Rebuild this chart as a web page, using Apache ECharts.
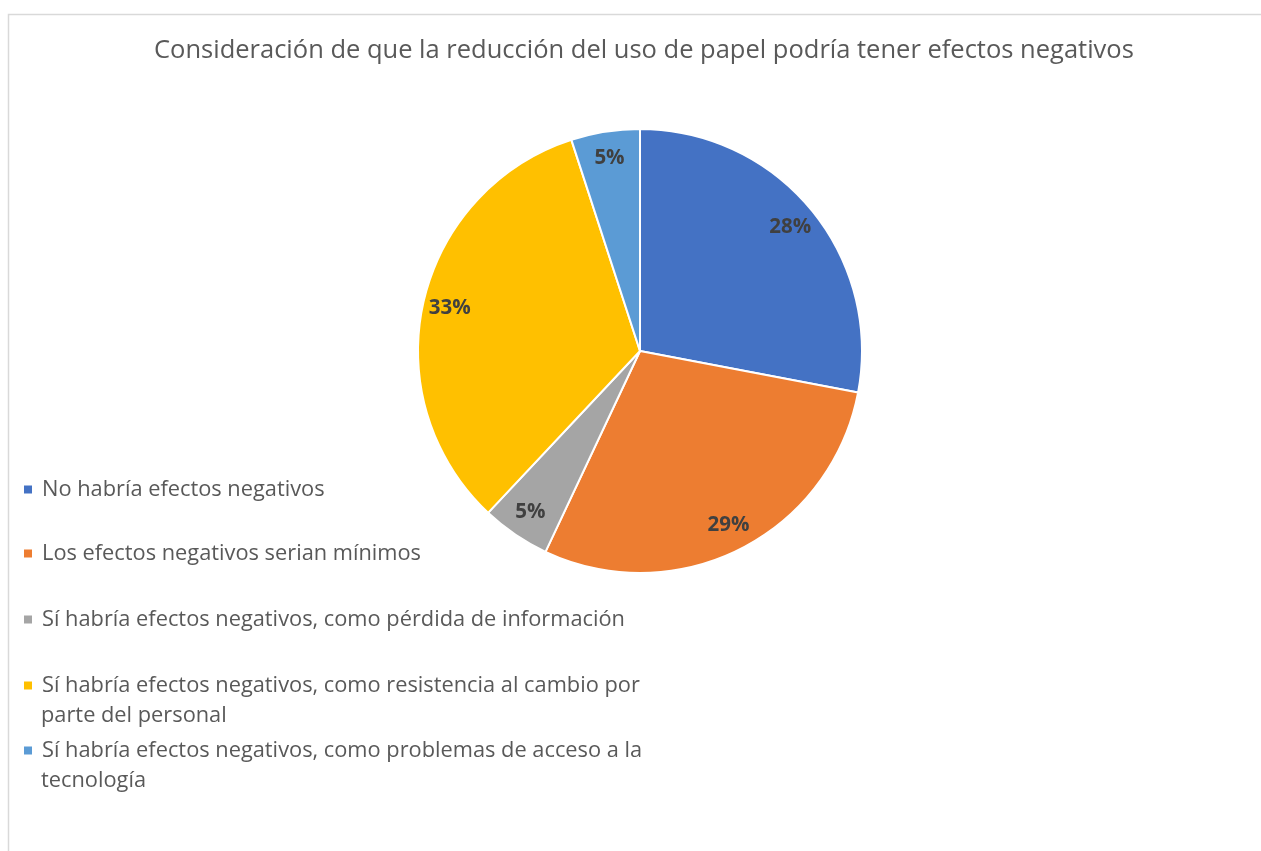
<!DOCTYPE html>
<html>
<head>
<meta charset="utf-8">
<script src="https://cdn.jsdelivr.net/npm/echarts@6/dist/echarts.min.js"></script>
<style>
  html, body { margin: 0; padding: 0; background: #ffffff; }
  #chart { width: 1261px; height: 851px; }
</style>
</head>
<body>
<div id="chart"></div>
<script>
// Survey answers and their shares (percent)
const categories = [
  'No habría efectos negativos',
  'Los efectos negativos serian mínimos',
  'Sí habría efectos negativos, como pérdida de información',
  'Sí habría efectos negativos, como resistencia al cambio por parte del personal',
  'Sí habría efectos negativos, como problemas de acceso a la tecnología'
];
// legend text, split into the lines it wraps to
const legendLines = [
  ['No habría efectos negativos'],
  ['Los efectos negativos serian mínimos'],
  ['Sí habría efectos negativos, como pérdida de información'],
  ['Sí habría efectos negativos, como resistencia al cambio por', 'parte del personal'],
  ['Sí habría efectos negativos, como problemas de acceso a la', 'tecnología']
];
const values = [28, 29, 5, 33, 5];
const colors = ['#4472C4', '#ED7D31', '#A5A5A5', '#FFC000', '#5B9BD5'];
const titleText = 'Consideración de que la reducción del uso de papel podría tener efectos negativos';

const FONT = '"Open Sans", "Noto Sans", sans-serif';
const TEXT_GREY = '#595959';
const LEGEND_FS = 21.8;
const CENTER = [640, 351];
const R = 222;
const LINE_H = 31;

const data = categories.map((name, i) => ({
  name,
  value: values[i],
  itemStyle: { color: colors[i] }
}));

// one legend block per entry, stacked in fixed slots (first-line centre y)
const legendRows = [489, 553, 619, 685, 750];
const legends = categories.map((name, i) => ({
  orient: 'vertical',
  left: 22,
  top: legendRows[i] - 15,
  icon: 'rect',
  itemWidth: 10,
  itemHeight: 10,
  selectedMode: false,
  padding: 0,
  data: [name],
  formatter: n => legendLines[categories.indexOf(n)][0],
  textStyle: {
    fontFamily: FONT,
    fontSize: LEGEND_FS,
    color: TEXT_GREY,
    lineHeight: LINE_H,
    padding: [0, 0, 0, 4]
  }
}));

// continuation lines of the wrapped legend entries
const legendWrap = [];
legendLines.forEach((lines, i) => {
  lines.slice(1).forEach((txt, k) => {
    legendWrap.push({
      type: 'text',
      silent: true,
      x: 41,
      y: legendRows[i] + LINE_H * (k + 1),
      style: {
        text: txt,
        fontFamily: FONT,
        fontSize: LEGEND_FS,
        fill: TEXT_GREY,
        verticalAlign: 'middle',
        align: 'left'
      }
    });
  });
});

const chart = echarts.init(document.getElementById('chart'), null, { renderer: 'canvas' });
chart.setOption({
  animation: false,
  backgroundColor: '#ffffff',
  title: {
    text: titleText,
    left: 149,
    top: 33,
    textStyle: {
      fontFamily: FONT,
      fontSize: 25.5,
      fontWeight: 'normal',
      color: TEXT_GREY
    }
  },
  legend: legends,
  graphic: [{
    type: 'rect',
    silent: true,
    shape: { x: 8.5, y: 14.5, width: 1300, height: 900 },
    style: { fill: null, stroke: '#d9d9d9', lineWidth: 1.5 }
  }].concat(legendWrap),
  series: [
    {
      type: 'pie',
      center: CENTER,
      radius: [0, R],
      startAngle: 90,
      clockwise: true,
      silent: true,
      label: { show: false },
      labelLine: { show: false },
      itemStyle: { borderColor: '#ffffff', borderWidth: 2 },
      data
    },
    {
      // ring carrying the percentage labels near the rim
      type: 'pie',
      center: CENTER,
      radius: [162, R],
      startAngle: 90,
      clockwise: true,
      silent: true,
      legendHoverLink: false,
      itemStyle: { color: 'rgba(0,0,0,0)', borderWidth: 0 },
      label: {
        show: true,
        position: 'inside',
        formatter: p => p.value + '%',
        fontFamily: FONT,
        fontSize: 20.5,
        fontWeight: 'bold',
        color: '#404040'
      },
      labelLine: { show: false },
      data: categories.map((name, i) => ({ name, value: values[i], itemStyle: { color: 'rgba(0,0,0,0)' } }))
    }
  ]
});
</script>
</body>
</html>
